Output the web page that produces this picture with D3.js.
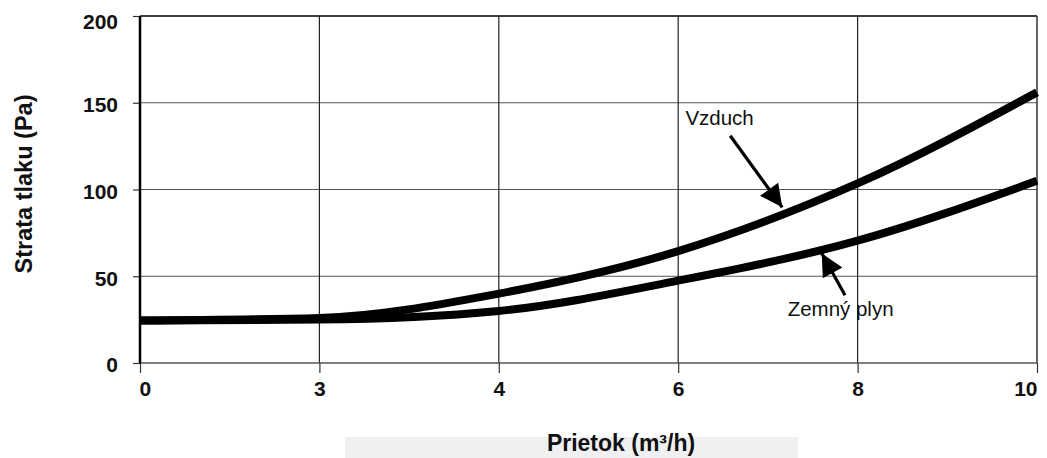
<!DOCTYPE html>
<html>
<head>
<meta charset="utf-8">
<script src="https://cdn.jsdelivr.net/npm/d3@7"></script>
<style>
  body { margin: 0; background: #fff; }
  svg { display: block; font-family: "Liberation Sans", Arial, sans-serif; }
</style>
</head>
<body>
<div id="chart"></div>
<script>
"use strict";

// data
var flowLabels = ["0", "3", "4", "6", "8", "10"];
var airLoss = [24.5, 26, 40, 64.5, 103.5, 156];
var gasLoss = [24.5, 25, 30, 47.5, 70.5, 105];
var yTicks = [0, 50, 100, 150, 200];

// annotations: text pos and arrow tail/tip, in (index, value) terms
var notes = [
  { text: "Vzduch", tx: 3.04, ty: 141.5, x1: 3.29, y1: 131, x2: 3.58, y2: 89.7 },
  { text: "Zemný plyn", tx: 3.61, ty: 31.5, x1: 3.93, y1: 39, x2: 3.80, y2: 63.2 }
];

var margin = { top: 16, right: 10, bottom: 95, left: 140 },
    W = 1047, H = 458,
    width = W - margin.left - margin.right,
    height = H - margin.top - margin.bottom;

var root = d3.select("#chart").append("svg")
  .attr("width", W).attr("height", H);

// light band behind the x title
root.append("rect")
  .attr("x", 345).attr("y", 437).attr("width", 453).attr("height", 21)
  .attr("fill", "#f0f0f2");

var svg = root.append("g")
  .attr("transform", "translate(" + margin.left + "," + margin.top + ")");

var x = d3.scaleLinear().domain([0, flowLabels.length - 1]).range([0, width]);
var y = d3.scaleLinear().domain([0, 200]).range([height, 0]);

// grid
svg.append("g").selectAll("line.h")
  .data(yTicks.slice(1, -1))
  .enter().append("line")
  .attr("x1", 0).attr("x2", width)
  .attr("y1", function (d) { return y(d); })
  .attr("y2", function (d) { return y(d); })
  .attr("stroke", "#555").attr("stroke-width", 1.2);

svg.append("g").selectAll("line.v")
  .data(d3.range(1, flowLabels.length - 1))
  .enter().append("line")
  .attr("y1", 0).attr("y2", height)
  .attr("x1", function (d) { return x(d); })
  .attr("x2", function (d) { return x(d); })
  .attr("stroke", "#222").attr("stroke-width", 1.2);

// frame
svg.append("line").attr("x1", 0).attr("x2", width).attr("y1", height).attr("y2", height)
  .attr("stroke", "#555").attr("stroke-width", 1.5);
svg.append("line").attr("x1", 0).attr("x2", width).attr("y1", 0).attr("y2", 0)
  .attr("stroke", "#000").attr("stroke-width", 1.5);
svg.append("line").attr("x1", width).attr("x2", width).attr("y1", 0).attr("y2", height)
  .attr("stroke", "#333").attr("stroke-width", 1.5);

// axes
var xAxis = d3.axisBottom(x)
  .tickValues(d3.range(flowLabels.length))
  .tickFormat(function (d) { return flowLabels[d]; })
  .tickSize(10).tickPadding(8);

var gx = svg.append("g")
  .attr("transform", "translate(0," + height + ")")
  .call(xAxis);
gx.select(".domain").remove();
gx.selectAll(".tick line").attr("stroke", "#333").attr("stroke-width", 1.2);
gx.selectAll(".tick text")
  .attr("font-size", 21).attr("font-weight", "bold").attr("fill", "#111")
  .attr("font-family", "Liberation Sans, Arial, sans-serif")
  .attr("text-anchor", function (d, i) {
    return i === 0 ? "start" : (i === flowLabels.length - 1 ? "end" : "middle");
  })
  .attr("dx", function (d, i) { return i === 0 ? -1 : 0; });

var yAxis = d3.axisLeft(y).tickValues(yTicks).tickSize(7).tickPadding(15);
var gy = svg.append("g").call(yAxis);
gy.select(".domain").remove();
gy.selectAll(".tick line").attr("stroke", "#333").attr("stroke-width", 1.2);
gy.selectAll(".tick text")
  .attr("font-size", 21).attr("font-weight", "bold").attr("fill", "#111")
  .attr("font-family", "Liberation Sans, Arial, sans-serif")
  .attr("dy", function (d) { return d === 200 ? "0.58em" : "0.42em"; });

svg.append("line").attr("x1", 0).attr("x2", 0).attr("y1", 0).attr("y2", height)
  .attr("stroke", "#000").attr("stroke-width", 2.5);

// curves
var line = d3.line()
  .x(function (d, i) { return x(i); })
  .y(function (d) { return y(d); })
  .curve(d3.curveMonotoneX);

[gasLoss, airLoss].forEach(function (s) {
  svg.append("path")
    .datum(s)
    .attr("d", line)
    .attr("fill", "none")
    .attr("stroke", "#000")
    .attr("stroke-width", 8)
    .attr("stroke-linecap", "butt");
});

// arrows + labels
root.append("defs").append("marker")
  .attr("id", "head")
  .attr("viewBox", "0 0 10 10")
  .attr("refX", 10).attr("refY", 5)
  .attr("markerWidth", 8).attr("markerHeight", 7)
  .attr("markerUnits", "strokeWidth")
  .attr("orient", "auto")
  .append("path").attr("d", "M0,0 L10,5 L0,10 Z").attr("fill", "#000");

notes.forEach(function (n) {
  svg.append("line")
    .attr("x1", x(n.x1)).attr("y1", y(n.y1))
    .attr("x2", x(n.x2)).attr("y2", y(n.y2))
    .attr("stroke", "#000").attr("stroke-width", 3.2)
    .attr("marker-end", "url(#head)");
  svg.append("text")
    .attr("x", x(n.tx)).attr("y", y(n.ty))
    .attr("dy", "0.35em")
    .attr("font-size", 20.5)
    .attr("fill", "#111")
    .text(n.text);
});

// titles
root.append("text")
  .attr("transform", "translate(32,184) rotate(-90)")
  .attr("text-anchor", "middle")
  .attr("font-size", 23.5).attr("font-weight", "bold").attr("fill", "#111")
  .text("Strata tlaku (Pa)");

root.append("text")
  .attr("x", 621).attr("y", 451)
  .attr("text-anchor", "middle")
  .attr("font-size", 23).attr("font-weight", "bold").attr("fill", "#111")
  .text("Prietok (m³/h)");
</script>
</body>
</html>
